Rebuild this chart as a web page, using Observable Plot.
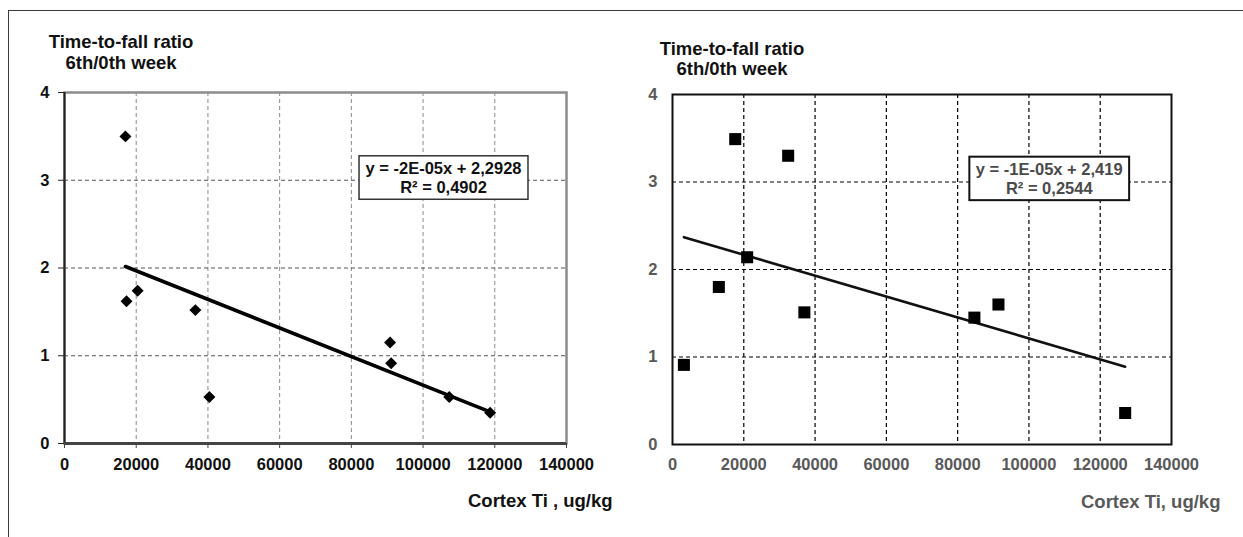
<!DOCTYPE html>
<html>
<head>
<meta charset="utf-8">
<script src="https://cdn.jsdelivr.net/npm/d3@7"></script>
<script src="https://cdn.jsdelivr.net/npm/@observablehq/plot@0.6"></script>
<style>
  html, body { margin: 0; padding: 0; background: #fff; }
  #wrap { position: relative; width: 1243px; height: 537px; overflow: hidden; background: #fff;
          font-family: "Liberation Sans", Arial, sans-serif; font-weight: bold; }
  #border { position: absolute; left: 8px; top: 10px; width: 1300px; height: 600px;
            border-top: 1.5px solid #3a3a3a; border-left: 1.5px solid #3a3a3a; }
  .panel { position: absolute; top: 0; }
  .ytitle { position: absolute; width: 220px; text-align: center; font-size: 18.5px; white-space: nowrap; color: #111; }
  .xtitle { position: absolute; font-size: 18.5px; line-height: 21px; white-space: nowrap; }
</style>
</head>
<body>
<div id="wrap">
  <div id="border"></div>
  <div id="left" class="panel" style="left:0px"></div>
  <div id="right" class="panel" style="left:621px"></div>
  <div class="ytitle" style="left:11px; top:31px; line-height:21px">Time-to-fall ratio<br>6th/0th week</div>
  <div class="ytitle" style="left:622px; top:39px; line-height:20px">Time-to-fall ratio<br>6th/0th week</div>
  <div class="xtitle" style="left:468px; top:490px; color:#111">Cortex Ti , ug/kg</div>
  <div class="xtitle" style="left:1081px; top:491px; color:#595959">Cortex Ti, ug/kg</div>
</div>
<script>
// ---- data ----
const leftCortexTi = [17000, 17300, 20400, 36500, 40400, 90800, 91100, 107300, 118700];
const leftRatio    = [3.50, 1.62, 1.74, 1.52, 0.53, 1.15, 0.915, 0.53, 0.35];
const rightCortexTi = [3200, 13000, 17600, 20950, 32450, 37000, 84700, 91450, 127000];
const rightRatio    = [0.91, 1.80, 3.49, 2.14, 3.30, 1.51, 1.45, 1.60, 0.36];
const xTicks = [0, 20000, 40000, 60000, 80000, 100000, 120000, 140000];
const yTicks = [0, 1, 2, 3, 4];
const leftEquation = ["y = -2E-05x + 2,2928", "R² = 0,4902"];
const rightEquation = ["y = -1E-05x + 2,419", "R² = 0,2544"];
const leftEquationAt = {x: 105700, y: 3.03};
const rightEquationAt = {x: 105700, y: 3.04};

const leftData = leftCortexTi.map((x, i) => ({x, y: leftRatio[i]}));
const rightData = rightCortexTi.map((x, i) => ({x, y: rightRatio[i]}));
const fmt = d => String(d);
const font = "'Liberation Sans', Arial, sans-serif";

const leftPlot = Plot.plot({
  width: 621, height: 537,
  marginLeft: 64, marginRight: 55, marginTop: 92, marginBottom: 94,
  style: {fontFamily: font, fontSize: "16.5px", fontWeight: "bold", color: "#111", background: "transparent"},
  x: {domain: [0, 140000]},
  y: {domain: [0, 4]},
  marks: [
    Plot.gridX(xTicks.slice(1, -1), {stroke: "#8a8a8a", strokeOpacity: 1, strokeWidth: 1, strokeDasharray: "4,3"}),
    Plot.gridY(yTicks.slice(1, -1), {stroke: "#555", strokeOpacity: 1, strokeWidth: 1, strokeDasharray: "4,3"}),
    Plot.frame({stroke: "#8c8c8c", strokeWidth: 2.5}),
    Plot.ruleX([0], {stroke: "#222", strokeWidth: 2}),
    Plot.ruleY([0], {stroke: "#444", strokeWidth: 3}),
    Plot.axisX(xTicks, {tickFormat: fmt, tickSize: 5, tickPadding: 10, label: null, stroke: "#444"}),
    Plot.axisY(yTicks, {tickFormat: fmt, tickSize: 6, tickPadding: 9, label: null, stroke: "#222"}),
    Plot.linearRegressionY(leftData, {x: "x", y: "y", ci: 0, stroke: "#000", strokeWidth: 3.6}),
    Plot.dot(leftData, {x: "x", y: "y", symbol: "diamond2", r: 5.4, fill: "#000", stroke: "none"}),
    Plot.text([leftEquationAt], {x: "x", y: "y", text: () => leftEquation.join("\n"),
      fontSize: 16.5, fontWeight: "bold", lineHeight: 1.12, fill: "#111", textAnchor: "middle"})
  ]
});

const rightPlot = Plot.plot({
  width: 622, height: 537,
  marginLeft: 51, marginRight: 72, marginTop: 94, marginBottom: 93,
  style: {fontFamily: font, fontSize: "16.5px", fontWeight: "bold", color: "#595959", background: "transparent"},
  x: {domain: [0, 140000]},
  y: {domain: [0, 4]},
  marks: [
    Plot.gridX(xTicks.slice(1, -1), {stroke: "#000", strokeOpacity: 1, strokeWidth: 1.2, strokeDasharray: "4,3"}),
    Plot.gridY(yTicks.slice(1, -1), {stroke: "#000", strokeOpacity: 1, strokeWidth: 1.2, strokeDasharray: "4,3"}),
    Plot.frame({stroke: "#111", strokeWidth: 2}),
    Plot.axisX(xTicks, {tickFormat: fmt, tickSize: 0, tickPadding: 14, label: null}),
    Plot.axisY(yTicks, {tickFormat: fmt, tickSize: 0, tickPadding: 15, label: null}),
    Plot.linearRegressionY(rightData, {x: "x", y: "y", ci: 0, stroke: "#111", strokeWidth: 2.6}),
    Plot.dot(rightData, {x: "x", y: "y", symbol: "square", r: 6.8, fill: "#000", stroke: "none"}),
    Plot.text([rightEquationAt], {x: "x", y: "y", text: () => rightEquation.join("\n"),
      fontSize: 16.5, fontWeight: "bold", lineHeight: 1.12, fill: "#4a4a4a", textAnchor: "middle"})
  ]
});

document.getElementById("left").appendChild(leftPlot);
document.getElementById("right").appendChild(rightPlot);

// white box with border behind each equation label
function boxLabel(svg, stroke, strokeWidth) {
  const SVGNS = "http://www.w3.org/2000/svg";
  Array.from(svg.querySelectorAll("text")).filter(t => t.textContent.includes("R²")).forEach(t => {
    const b = t.getBBox();
    const padX = 6.5, padY = 3.5;
    const rect = document.createElementNS(SVGNS, "rect");
    rect.setAttribute("x", b.x - padX);
    rect.setAttribute("y", b.y - padY);
    rect.setAttribute("width", b.width + 2 * padX);
    rect.setAttribute("height", b.height + 2 * padY);
    rect.setAttribute("fill", "#fff");
    rect.setAttribute("stroke", stroke);
    rect.setAttribute("stroke-width", strokeWidth);
    const tr = t.getAttribute("transform");
    if (tr) rect.setAttribute("transform", tr);
    t.parentNode.insertBefore(rect, t);
  });
}
boxLabel(leftPlot, "#333", 1.5);
boxLabel(rightPlot, "#111", 2);
</script>
</body>
</html>
